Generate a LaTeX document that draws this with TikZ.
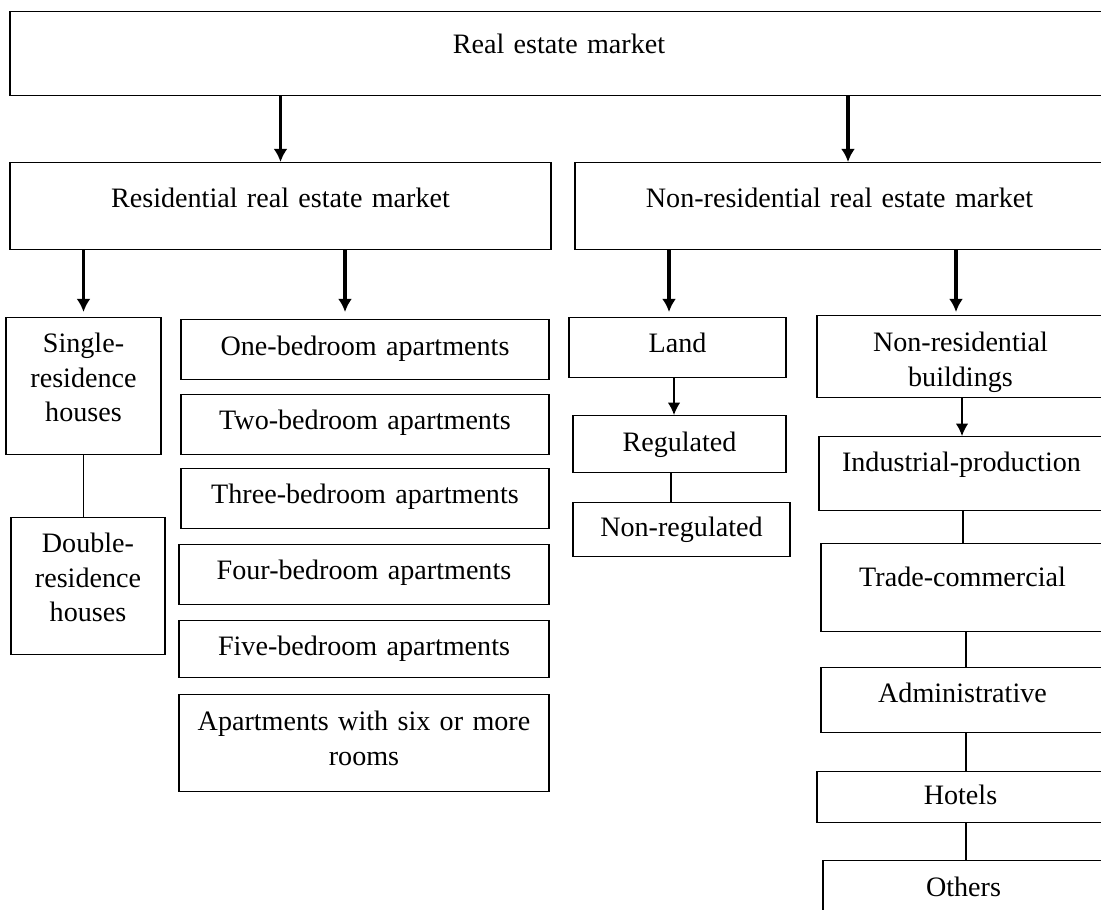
\documentclass[tikz,border=0pt]{standalone}
\usepackage{fontspec}
\setmainfont{Liberation Serif}
\usetikzlibrary{arrows.meta}
\begin{document}
\begin{tikzpicture}[x=0.02cm,y=-0.02cm,
  box/.style={draw,line width=0.8pt,anchor=north,inner sep=0pt,align=center,
    font=\fontsize{16}{19.6}\selectfont,text height=0.7cm},
  bigarrow/.style={-{Latex[length=7.5pt,width=8pt]},line width=1.8pt},
  smallarrow/.style={-{Latex[length=7pt,width=7pt]},line width=0.75pt},
  link/.style={line width=0.8pt}]
\useasboundingbox (0,0) rectangle (1101,909);
\clip (0,0) rectangle (1101,909);
\node[box,text width=21.96cm,text height=0.84cm,text depth=0.84cm] (market) at (559,11) {Real estate market};
\node[box,text width=10.82cm,text height=0.9cm,text depth=0.84cm] (resid) at (280.5,162) {Residential real estate market};
\node[box,text width=10.58cm,text height=0.9cm,text depth=0.84cm] (nonres) at (839.5,162) {Non-residential real estate market};
% residential
\node[box,text width=3.1cm,text depth=2.04cm] (single) at (83.5,317) {Single-\\residence\\houses};
\node[box,text width=3.08cm,text depth=2.04cm] (double) at (88,517) {Double-\\residence\\houses};
\node[box,text width=7.36cm,text height=0.72cm,text depth=0.48cm] (one) at (365,319) {One-bedroom apartments};
\node[box,text width=7.36cm,text depth=0.5cm] (two) at (365,394) {Two-bedroom apartments};
\node[box,text width=7.36cm,text depth=0.5cm] (three) at (365,468) {Three-bedroom apartments};
\node[box,text width=7.4cm,text depth=0.5cm] (four) at (364,544) {Four-bedroom apartments};
\node[box,text width=7.4cm,text depth=0.44cm] (five) at (364,620) {Five-bedroom apartments};
\node[box,text width=7.4cm,text height=0.72cm,text depth=1.22cm] (six) at (364,694) {Apartments with six or more\\rooms};
% non-residential
\node[box,text width=4.34cm,text depth=0.5cm] (land) at (677.5,317) {Land};
\node[box,text width=4.26cm,text height=0.72cm,text depth=0.42cm] (regulated) at (679.5,415) {Regulated};
\node[box,text width=4.34cm,text height=0.68cm,text depth=0.4cm] (nonregulated) at (681.5,502) {Non-regulated};
\node[box,text width=5.74cm,text height=0.72cm,text depth=0.92cm] (buildings) at (960.5,315) {Non-residential\\buildings};
\node[box,text width=5.7cm,text depth=0.78cm] (industrial) at (961.5,436) {Industrial-production};
\node[box,text width=5.66cm,text height=0.86cm,text depth=0.9cm] (trade) at (962.5,543) {Trade-commercial};
\node[box,text width=5.66cm,text depth=0.6cm] (admin) at (962.5,667) {Administrative};
\node[box,text width=5.74cm,text height=0.66cm,text depth=0.36cm] (hotels) at (960.5,771) {Hotels};
\node[box,text width=5.62cm,text height=0.72cm,text depth=0.68cm] (others) at (963.5,860) {Others};
\coordinate (toone) at ([xshift=-0.4cm]one.north);
\coordinate (tomarket) at ([xshift=0.17cm]nonres.north);
\coordinate (toland) at ([xshift=-0.17cm]land.north);
\coordinate (tobuild) at ([xshift=-0.09cm]buildings.north);
\coordinate (toreg) at ([xshift=-0.11cm]regulated.north);
\coordinate (tononreg) at ([xshift=-0.21cm]nonregulated.north);
\coordinate (toindustrial) at ([xshift=0.03cm]buildings.south);
\coordinate (totrade) at ([xshift=0.03cm]industrial.south);
\coordinate (chain) at ([xshift=0.07cm]trade.south);
\draw[bigarrow] (resid.north |- market.south) -- (resid.north);
\draw[bigarrow] (tomarket |- market.south) -- (tomarket);
\draw[bigarrow,shorten >=0.1cm] (single.north |- resid.south) -- (single.north);
\draw[bigarrow,shorten >=0.14cm] (toone |- resid.south) -- (toone);
\draw[bigarrow,shorten >=0.1cm] (toland |- nonres.south) -- (toland);
\draw[bigarrow,shorten >=0.06cm] (tobuild |- nonres.south) -- (tobuild);
\draw[smallarrow] (toreg |- land.south) -- (toreg);
\draw[smallarrow] (toindustrial) -- (toindustrial |- industrial.north);
\draw[link] (single.south) -- (single.south |- double.north);
\draw[link] (tononreg |- regulated.south) -- (tononreg);
\draw[link] (totrade) -- (totrade |- trade.north);
\draw[link] (chain) -- (chain |- admin.north);
\draw[link] (chain |- admin.south) -- (chain |- hotels.north);
\draw[link] (chain |- hotels.south) -- (chain |- others.north);
\end{tikzpicture}
\end{document}
